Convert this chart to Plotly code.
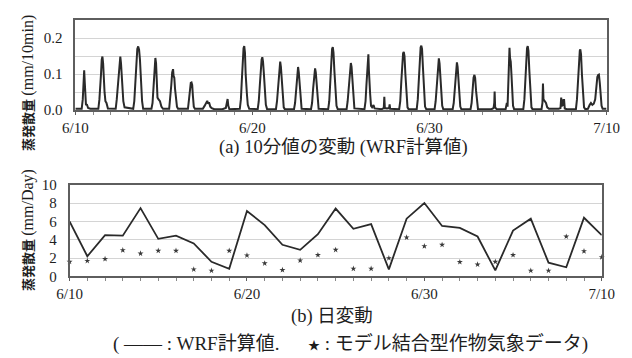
import plotly.graph_objects as go

# ---------------- data ----------------
# (a) 10-minute evapotranspiration (WRF), key points
# t10: time in days since 6/10 00:00 ; et10: mm/10min
t10 = [
    0.00, 0.36, 0.42, 0.46, 0.50, 0.53, 0.56, 0.60, 0.66, 0.72, 0.85,
    1.30, 1.36, 1.41, 1.45, 1.49, 1.53, 1.57, 1.61, 1.65, 1.70, 1.76, 1.84,
    2.28, 2.34, 2.39, 2.44, 2.49, 2.54, 2.58, 2.62, 2.66, 2.71, 2.78,
    3.27, 3.33, 3.39, 3.45, 3.50, 3.55, 3.60, 3.65, 3.71, 3.77, 3.83,
    4.30, 4.36, 4.41, 4.46, 4.52, 4.56, 4.60, 4.64, 4.70, 4.78, 4.86, 4.95,
    5.30, 5.36, 5.42, 5.47, 5.52, 5.55, 5.59, 5.63, 5.68, 5.74, 5.80,
    6.36, 6.42, 6.47, 6.52, 6.56, 6.60, 6.64, 6.69, 6.75,
    7.20, 7.30, 7.38, 7.45, 7.50, 7.55, 7.62, 7.70, 7.85,
    8.30, 8.50, 8.56, 8.60, 8.64, 8.70,
    9.29, 9.35, 9.40, 9.45, 9.50, 9.54, 9.58, 9.62, 9.65, 9.69, 9.74, 9.82,
    10.30, 10.36, 10.42, 10.47, 10.52, 10.56, 10.60, 10.65, 10.70, 10.76, 10.83,
    11.33, 11.39, 11.45, 11.50, 11.54, 11.57, 11.61, 11.66, 11.71, 11.77, 11.83,
    12.35, 12.41, 12.47, 12.52, 12.58, 12.62, 12.67, 12.72, 12.78,
    13.31, 13.37, 13.43, 13.48, 13.54, 13.58, 13.63, 13.68, 13.74,
    14.28, 14.34, 14.40, 14.45, 14.50, 14.54, 14.58, 14.63, 14.69, 14.75, 14.82,
    15.32, 15.38, 15.44, 15.50, 15.56, 15.60, 15.65, 15.70, 15.76,
    16.33, 16.39, 16.44, 16.49, 16.53, 16.55, 16.58, 16.61, 16.65, 16.70, 16.76, 16.84, 16.90,
    17.30, 17.42, 17.45, 17.48, 17.60, 17.72, 17.75, 17.78,
    18.29, 18.35, 18.41, 18.46, 18.51, 18.55, 18.59, 18.64, 18.70, 18.76, 18.82,
    19.28, 19.34, 19.40, 19.45, 19.50, 19.54, 19.58, 19.63, 19.69, 19.75, 19.82,
    20.29, 20.35, 20.41, 20.46, 20.50, 20.53, 20.57, 20.61, 20.66, 20.72, 20.78,
    21.31, 21.37, 21.43, 21.48, 21.52, 21.55, 21.59, 21.63, 21.68, 21.74, 21.80,
    22.32, 22.38, 22.44, 22.49, 22.54, 22.58, 22.63, 22.68, 22.74,
    23.50, 23.62, 23.66, 23.68, 23.71, 23.80,
    24.30, 24.37, 24.41, 24.45, 24.49, 24.52, 24.55, 24.59, 24.63, 24.67, 24.72, 24.78,
    25.30, 25.36, 25.42, 25.47, 25.51, 25.55, 25.59, 25.64, 25.70, 25.76, 25.82,
    26.33, 26.38, 26.41, 26.44, 26.50, 26.58, 26.65, 26.75,
    27.30, 27.40, 27.44, 27.47, 27.52, 27.55, 27.60, 27.64, 27.75,
    28.27, 28.33, 28.39, 28.44, 28.49, 28.52, 28.56, 28.61, 28.67, 28.73, 28.80,
    28.95, 29.05, 29.12, 29.20, 29.28, 29.36, 29.42, 29.48, 29.53, 29.57, 29.62, 29.67, 29.72, 29.78, 30.00,
]
et10 = [
    0.004, 0.004, 0.030, 0.080, 0.111, 0.080, 0.020, 0.016, 0.015, 0.006, 0.004,
    0.004, 0.030, 0.060, 0.100, 0.140, 0.149, 0.130, 0.080, 0.050, 0.025, 0.020, 0.005,
    0.004, 0.030, 0.065, 0.100, 0.140, 0.149, 0.130, 0.090, 0.050, 0.025, 0.008,
    0.004, 0.025, 0.080, 0.140, 0.170, 0.177, 0.168, 0.140, 0.080, 0.025, 0.004,
    0.004, 0.020, 0.060, 0.120, 0.145, 0.130, 0.070, 0.035, 0.030, 0.025, 0.010, 0.004,
    0.004, 0.030, 0.070, 0.105, 0.114, 0.095, 0.090, 0.060, 0.030, 0.010, 0.004,
    0.004, 0.030, 0.065, 0.076, 0.077, 0.070, 0.040, 0.010, 0.004,
    0.004, 0.012, 0.018, 0.026, 0.018, 0.022, 0.010, 0.006, 0.003,
    0.003, 0.006, 0.020, 0.031, 0.012, 0.003,
    0.004, 0.030, 0.080, 0.140, 0.172, 0.178, 0.160, 0.100, 0.055, 0.045, 0.015, 0.004,
    0.003, 0.025, 0.070, 0.115, 0.140, 0.147, 0.135, 0.100, 0.050, 0.015, 0.003,
    0.003, 0.025, 0.065, 0.105, 0.130, 0.135, 0.120, 0.080, 0.035, 0.008, 0.003,
    0.003, 0.020, 0.060, 0.100, 0.120, 0.105, 0.065, 0.025, 0.004,
    0.003, 0.020, 0.060, 0.095, 0.116, 0.105, 0.070, 0.030, 0.004,
    0.003, 0.025, 0.080, 0.140, 0.170, 0.175, 0.160, 0.110, 0.050, 0.012, 0.003,
    0.003, 0.025, 0.065, 0.110, 0.131, 0.120, 0.080, 0.035, 0.005,
    0.003, 0.025, 0.070, 0.120, 0.150, 0.155, 0.110, 0.065, 0.045, 0.012, 0.008, 0.014, 0.005,
    0.003, 0.006, 0.037, 0.006, 0.005, 0.006, 0.016, 0.004,
    0.003, 0.025, 0.080, 0.130, 0.158, 0.162, 0.150, 0.100, 0.040, 0.008, 0.003,
    0.003, 0.030, 0.090, 0.145, 0.174, 0.179, 0.170, 0.120, 0.050, 0.010, 0.003,
    0.003, 0.025, 0.075, 0.120, 0.140, 0.144, 0.130, 0.100, 0.050, 0.012, 0.003,
    0.003, 0.020, 0.065, 0.110, 0.130, 0.133, 0.120, 0.090, 0.045, 0.010, 0.003,
    0.003, 0.020, 0.060, 0.090, 0.098, 0.090, 0.055, 0.020, 0.003,
    0.003, 0.006, 0.020, 0.052, 0.008, 0.003,
    0.003, 0.020, 0.010, 0.070, 0.150, 0.173, 0.145, 0.135, 0.100, 0.050, 0.012, 0.003,
    0.003, 0.030, 0.090, 0.145, 0.172, 0.178, 0.165, 0.110, 0.045, 0.008, 0.003,
    0.003, 0.020, 0.074, 0.030, 0.025, 0.020, 0.008, 0.004,
    0.004, 0.006, 0.035, 0.010, 0.030, 0.012, 0.031, 0.005, 0.003,
    0.003, 0.030, 0.085, 0.140, 0.165, 0.169, 0.155, 0.100, 0.040, 0.008, 0.003,
    0.004, 0.015, 0.020, 0.015, 0.018, 0.030, 0.065, 0.092, 0.098, 0.099, 0.075, 0.040, 0.012, 0.004, 0.004,
]
assert len(t10) == len(et10)

# (b) daily values, 6/10 ... 7/10
days = list(range(31))
wrf_daily = [6.0, 2.2, 4.5, 4.45, 7.45, 4.1, 4.45, 3.6, 1.6, 0.84,
             7.14, 5.6, 3.45, 2.9, 4.6, 7.4, 5.2, 5.7, 0.77, 6.3,
             8.0, 5.5, 5.3, 4.35, 0.66, 5.0, 6.3, 1.5, 1.0, 6.4, 4.5]
model_daily = [1.6, 1.7, 1.9, 2.86, 2.5, 2.8, 2.8, 0.77, 0.63, 2.8,
               2.3, 1.43, 0.7, 1.74, 2.33, 2.9, 0.84, 0.84, 2.0, 4.25,
               3.3, 3.45, 1.57, 1.3, 1.6, 2.33, 0.63, 0.63, 4.35, 2.75, 2.1]

x_tickvals = [0, 10, 20, 30]
x_ticktext = ["6/10", "6/20", "6/30", "7/10"]

# ---------------- figure ----------------
W, H = 632, 358
SERIF = "Liberation Serif, Noto Sans CJK JP, serif"
JP = "Liberation Serif, Noto Sans CJK JP, sans-serif"
FRAME = "#5e5e5e"
GRID = "#d4d4d4"
INK = "#1e1e1e"

fig = go.Figure()
fig.add_trace(go.Scatter(x=t10, y=et10, mode="lines",
                         line=dict(color="#2a2a2a", width=2),
                         xaxis="x", yaxis="y", showlegend=False, hoverinfo="skip"))
fig.add_trace(go.Scatter(x=days, y=wrf_daily, mode="lines",
                         line=dict(color="#2a2a2a", width=1.8),
                         xaxis="x2", yaxis="y2", showlegend=False, hoverinfo="skip"))
fig.add_trace(go.Scatter(x=days, y=model_daily, mode="markers",
                         marker=dict(symbol="star", size=4.5, color="#3a3a3a"),
                         xaxis="x2", yaxis="y2", showlegend=False, cliponaxis=False,
                         hoverinfo="skip"))

def xpx(a, b):
    return [a / W, b / W]

def ypx(top, bottom):
    return [1 - bottom / H, 1 - top / H]

xcommon = dict(range=[0, 30], tickmode="array", tickvals=x_tickvals, ticktext=x_ticktext,
               ticks="outside", ticklen=3, tickcolor=FRAME, showgrid=False, zeroline=False,
               showline=True, linecolor=FRAME, linewidth=1.5, mirror=True,
               tickfont=dict(family=SERIF, size=15, color=INK), ticklabelstandoff=0,
               minor=dict(tickmode="linear", tick0=0, dtick=1, ticks="outside",
                          ticklen=3, tickcolor="#888888", showgrid=False))

fig.update_layout(
    width=W, height=H,
    margin=dict(l=0, r=0, t=0, b=0),
    paper_bgcolor="white", plot_bgcolor="white",
    xaxis=dict(domain=xpx(65, 619), anchor="y", **xcommon),
    yaxis=dict(domain=ypx(12.7, 107), anchor="x", range=[0, 0.25],
               tickmode="linear", tick0=0, dtick=0.1, tickformat=".1f",
               ticks="", showgrid=True, gridcolor=GRID, gridwidth=1, zeroline=False,
               showline=True, linecolor=FRAME, linewidth=1.5, mirror=True,
               tickfont=dict(family=SERIF, size=15, color=INK), ticklabelstandoff=8,
               minor=dict(tickmode="linear", tick0=0, dtick=0.05, showgrid=True,
                          gridcolor=GRID, gridwidth=1)),
    xaxis2=dict(domain=xpx(59, 614), anchor="y2", **xcommon),
    yaxis2=dict(domain=ypx(185, 281), anchor="x2", range=[0, 10],
                tickmode="linear", tick0=0, dtick=2,
                ticks="", showgrid=True, gridcolor=GRID, gridwidth=1, zeroline=False,
                showline=True, linecolor=FRAME, linewidth=1.5, mirror=True,
                tickfont=dict(family=SERIF, size=15, color=INK), ticklabelstandoff=8),
)

ann = [
    dict(text="(a) 10分値の変動 (WRF計算値)", x=345 / W, y=1 - 146 / H,
         font=dict(family=JP, size=18.5, color=INK)),
    dict(text="(b) 日変動", x=333 / W, y=1 - 323 / H,
         font=dict(family=JP, size=18.5, color=INK)),
    dict(text="( —— : WRF計算値.      <span style='font-size:12px'>★</span> : モデル結合型作物気象データ)",
         x=352 / W, y=1 - 352 / H, font=dict(family=JP, size=19, color=INK)),
    dict(text="<b>蒸発散量</b> <span style='font-size:16px'>(mm/10min)</span>",
         x=15 / W, y=1 - 78 / H, textangle=-90,
         font=dict(family=JP, size=13, color=INK)),
    dict(text="<b>蒸発散量</b> <span style='font-size:16px'>(mm/Day)</span>",
         x=15 / W, y=1 - 232 / H, textangle=-90,
         font=dict(family=JP, size=13, color=INK)),
]
for a in ann:
    a.update(xref="paper", yref="paper", showarrow=False, xanchor="center", yanchor="middle")
fig.update_layout(annotations=ann)

fig.write_html("out.html", config={"displayModeBar": False},
               post_script="document.body.style.margin='0';document.body.style.overflow='hidden';")
